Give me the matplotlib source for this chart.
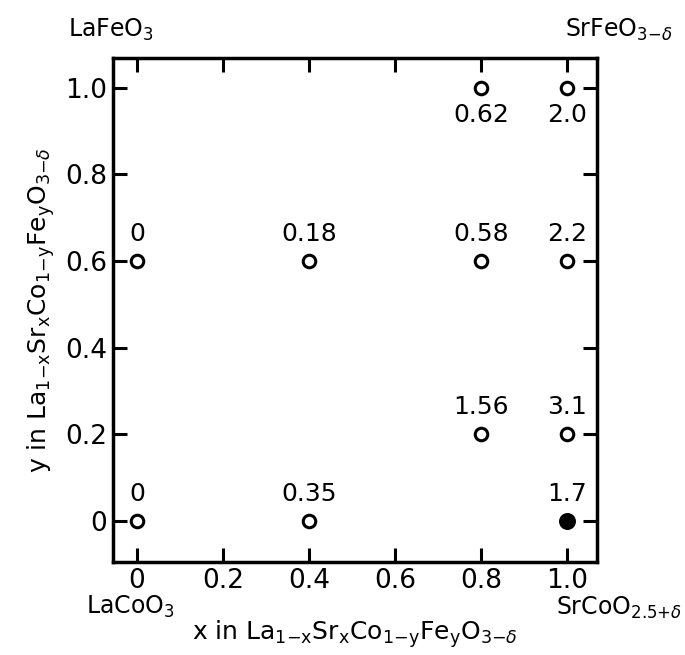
import matplotlib
matplotlib.use("Agg")
import matplotlib.pyplot as plt

x_vals = [0.0, 0.4, 1.0, 0.8, 1.0, 0.0, 0.4, 0.8, 1.0, 0.8, 1.0]
y_vals = [0.0, 0.0, 0.0, 0.2, 0.2, 0.6, 0.6, 0.6, 0.6, 1.0, 1.0]
labels = ["0", "0.35", "1.7", "1.56", "3.1", "0", "0.18", "0.58", "2.2", "0.62", "2.0"]
filled = [False, False, True, False, False, False, False, False, False, False, False]
xticks = [0, 0.2, 0.4, 0.6, 0.8, 1.0]
xticklabels = ["0", "0.2", "0.4", "0.6", "0.8", "1.0"]
yticks = [0, 0.2, 0.4, 0.6, 0.8, 1.0]
yticklabels = ["0", "0.2", "0.4", "0.6", "0.8", "1.0"]

plt.rcParams['font.family'] = ['DejaVu Sans']
plt.rcParams['mathtext.fontset'] = 'dejavusans'

fig = plt.figure(figsize=(6.85, 6.55), dpi=100)
ax = fig.add_axes([113/685, 1-562/655, (597-113)/685, (562-58)/655])
ax.set_xlim(-0.056, 1.07)
ax.set_ylim(-0.095, 1.069)

for xv, yv, lab, f in zip(x_vals, y_vals, labels, filled):
    ax.plot(xv, yv, 'o', ms=10 if f else 9, mfc='black' if f else 'white',
            mec='black', mew=2.2, zorder=3)
    if yv >= 1.0:
        ax.text(xv, yv - 0.035, lab, ha='center', va='top', fontsize=18)
    else:
        ax.text(xv, yv + 0.035, lab, ha='center', va='bottom', fontsize=18)

ax.set_xticks(xticks)
ax.set_xticklabels(xticklabels)
ax.set_yticks(yticks)
ax.set_yticklabels(yticklabels)
ax.tick_params(direction='in', length=10, width=2.2, labelsize=19,
               top=True, right=True, pad=4)
for s in ax.spines.values():
    s.set_linewidth(2.5)

formula = r'La$_{1{-}\mathrm{x}}$Sr$_\mathrm{x}$Co$_{1{-}\mathrm{y}}$Fe$_\mathrm{y}$O$_{3{-}\delta}$'
fig.text(355/685, 1-634/655, 'x in ' + formula, fontsize=18, ha='center', va='center')
ax.set_ylabel('y in ' + formula, fontsize=18, labelpad=6)

fig.text(68/685, 1-30/655, r'LaFeO$_3$', fontsize=17, ha='left', va='center')
fig.text(672/685, 1-30/655, r'SrFeO$_{3{-}\delta}$', fontsize=17, ha='right', va='center')
fig.text(86/685, 1-607/655, r'LaCoO$_3$', fontsize=17, ha='left', va='center')
fig.text(682/685, 1-608/655, r'SrCoO$_{2.5{+}\delta}$', fontsize=17, ha='right', va='center')

fig.savefig('out.png', dpi=100)
